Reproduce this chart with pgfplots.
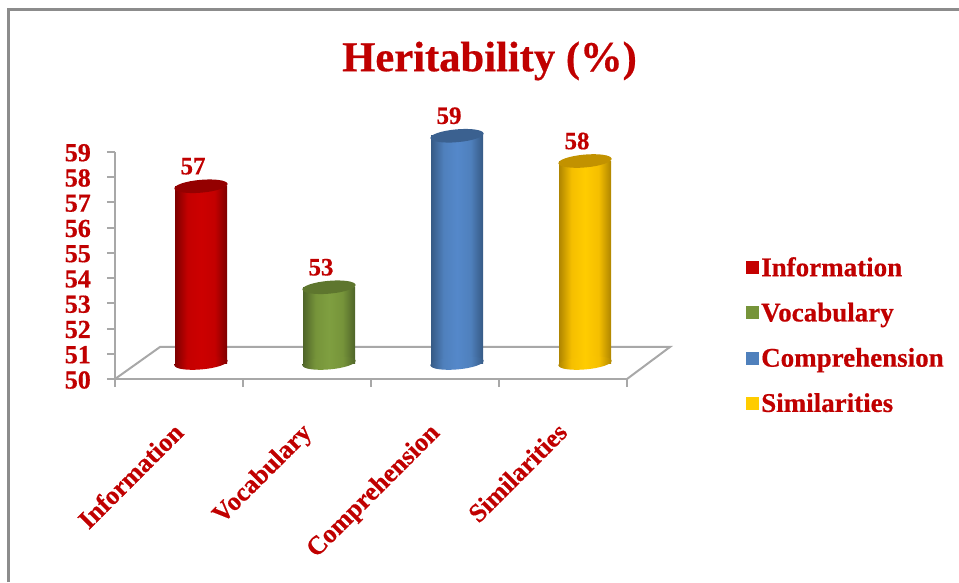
\documentclass[border=0pt]{standalone}
\usepackage{pgfplots}
\pgfplotsset{compat=1.18}
\usepackage{fontspec}
\setmainfont{Liberation Serif}[BoldFeatures={FakeBold=0.5}]
\definecolor{lab}{HTML}{C00000}
\definecolor{axisg}{HTML}{A8A8A8}
\definecolor{frameg}{HTML}{8C8C8C}
\definecolor{redD}{HTML}{7E0000}\definecolor{redM}{HTML}{C40000}\definecolor{redB}{HTML}{CC0000}\definecolor{redC}{HTML}{940000}
\definecolor{greD}{HTML}{4F6429}\definecolor{greM}{HTML}{76943A}\definecolor{greB}{HTML}{7F9F40}\definecolor{greC}{HTML}{5E762E}
\definecolor{bluD}{HTML}{365A85}\definecolor{bluM}{HTML}{4F80BC}\definecolor{bluB}{HTML}{5488CA}\definecolor{bluC}{HTML}{3B6190}
\definecolor{yelD}{HTML}{AF8500}\definecolor{yelM}{HTML}{F5BF00}\definecolor{yelB}{HTML}{FFCC00}\definecolor{yelC}{HTML}{C29200}
\newcommand\ellpath{\pgfpathellipse{\pgfpointorigin}{\pgfpoint{26.6pt}{2.33pt}}{\pgfpoint{-0.56pt}{6.4pt}}}
\newcommand\cyl[1]{%
  \pgfdeclarehorizontalshading{cyl#1}{100bp}{color(0bp)=(#1D); color(25bp)=(#1D); color(37bp)=(#1M); color(50bp)=(#1B); color(63bp)=(#1M); color(75bp)=(#1D); color(100bp)=(#1D)}%
  \pgfdeclareplotmark{top#1}{\pgfsetfillcolor{#1C}\ellpath\pgfusepathqfill}%
  \pgfdeclareplotmark{bot#1}{\ellpath\pgfshadepath{cyl#1}{0}\pgfusepath{discard}}%
}
\cyl{red}\cyl{gre}\cyl{blu}\cyl{yel}
\pgfkeys{/pgf/number format/assume math mode=true}
\pgfplotsset{
  base/.style={
    anchor=south west, scale only axis, width=512pt, height=227.25pt,
    xmin=-0.5, xmax=3.5, ymin=50, ymax=59, clip=false,
  },
  cylbar/.style={ybar, bar width=52pt, bar shift=0pt, draw=none, shade, shading=cyl#1, forget plot},
  cyltop/.style={only marks, mark=top#1, forget plot,
    nodes near coords, point meta=y,
    every node near coord/.append style={anchor=center, inner sep=0pt, xshift=-8pt, yshift=20pt,
      text=lab, font=\fontsize{25}{25}\selectfont\bfseries, /pgf/number format/fixed, /pgf/number format/precision=0}},
  cylbot/.style={only marks, mark=bot#1, forget plot},
}
\begin{document}
\begin{tikzpicture}[x=1pt,y=1pt]
\path[use as bounding box] (0,0) rectangle (959,582);
\draw[frameg,line width=3pt] (8.5,0) -- (8.5,572.5) -- (959,572.5);
\node[text=lab,font=\fontsize{42.6}{44}\selectfont\bfseries,anchor=center,inner sep=0pt] at (489.5,521) {Heritability (\%)};
\begin{axis}[base, at={(115pt,203pt)},
  axis x line=bottom, axis y line=left,
  axis line style={axisg,line width=2pt,-},
  ytick={50,...,59},
  xtick={0,1,2,3}, xticklabels={Information,Vocabulary,Comprehension,Similarities},
  minor xtick={-0.5,0.5,1.5,2.5,3.5},
  major tick length=8pt, minor tick length=8pt,
  tick align=outside,
  tick style={axisg,line width=2pt},
  major x tick style={draw=none},
  yticklabel style={text=lab,font=\fontsize{26}{26}\selectfont\bfseries,anchor=east,inner sep=0pt,xshift=-16pt,yshift=-1pt},
  xticklabel style={text=lab,font=\fontsize{26}{26}\selectfont\bfseries,rotate=45,anchor=north east,inner sep=0pt,yshift=-19pt,xshift=-29pt},
  legend style={draw=none,fill=none,
    font=\fontsize{27}{27}\selectfont\bfseries, text=lab, row sep=21pt, legend cell align=left,
    at={(628pt,126pt)},anchor=north west},
  legend image code/.code={\path[fill=#1,draw=none] (-5pt,-6.5pt) rectangle (8pt,6.5pt);},
]
\addplot[axisg,line width=2pt,forget plot] coordinates {(-0.5,50) (-0.148,51.27) (3.836,51.27) (3.5,50)};
\addlegendimage{redM}\addlegendentry{Information}
\addlegendimage{greM}\addlegendentry{Vocabulary}
\addlegendimage{bluM}\addlegendentry{Comprehension}
\addlegendimage{yelB}\addlegendentry{Similarities}
\end{axis}
\begin{axis}[base, at={(137pt,219pt)}, hide axis]
\addplot[cylbot=red] coordinates {(0,50)};
\addplot[cylbot=gre] coordinates {(1,50)};
\addplot[cylbot=blu] coordinates {(2,50)};
\addplot[cylbot=yel] coordinates {(3,50)};
\addplot[cylbar=red] coordinates {(0,57)};
\addplot[cylbar=gre] coordinates {(1,53)};
\addplot[cylbar=blu] coordinates {(2,59)};
\addplot[cylbar=yel] coordinates {(3,58)};
\addplot[cyltop=red] coordinates {(0,57)};
\addplot[cyltop=gre] coordinates {(1,53)};
\addplot[cyltop=blu] coordinates {(2,59)};
\addplot[cyltop=yel] coordinates {(3,58)};
\end{axis}
\end{tikzpicture}
\end{document}
